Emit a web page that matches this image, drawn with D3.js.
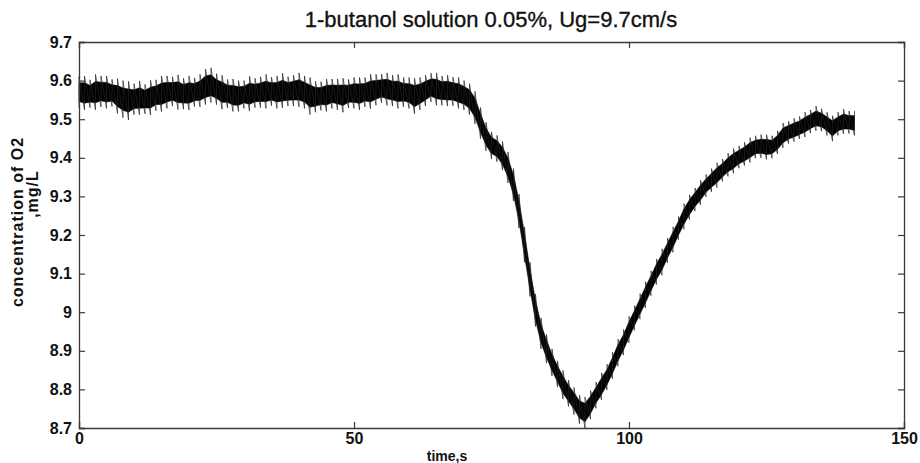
<!DOCTYPE html>
<html><head><meta charset="utf-8">
<script src="https://cdn.jsdelivr.net/npm/d3@7"></script>
<style>body{margin:0;background:#fff}svg{display:block}</style>
</head><body>
<script>
const title = "1-butanol solution 0.05%, Ug=9.7cm/s";
const xLabel = "time,s";
const yLabelLines = ["concentration of O2", ",mg/L"];
const xTicks = [0, 50, 100, 150];
const yTicks = [8.7, 8.8, 8.9, 9, 9.1, 9.2, 9.3, 9.4, 9.5, 9.6, 9.7];
const yTickLabels = ["8.7","8.8","8.9","9","9.1","9.2","9.3","9.4","9.5","9.6","9.7"];
// time in seconds (one sample per second)
const timeS = d3.range(0, 142);
// centre of the noisy trace, mg/L
const centre = [
9.570,9.568,9.566,9.570,9.572,9.570,9.568,9.560,9.552,9.548,
9.552,9.555,9.552,9.556,9.562,9.566,9.570,9.572,9.570,9.566,
9.568,9.570,9.574,9.584,9.588,9.578,9.570,9.566,9.562,9.560,
9.564,9.566,9.568,9.570,9.572,9.572,9.570,9.574,9.572,9.574,
9.576,9.570,9.560,9.558,9.560,9.562,9.566,9.564,9.562,9.566,
9.568,9.566,9.570,9.572,9.576,9.580,9.578,9.574,9.572,9.570,
9.568,9.560,9.566,9.574,9.582,9.578,9.574,9.574,9.572,9.568,
9.562,9.552,9.530,9.490,9.455,9.432,9.424,9.405,9.375,9.330,
9.262,9.175,9.085,9.005,8.945,8.905,8.870,8.840,8.812,8.790,
8.770,8.748,8.740,8.760,8.785,8.808,8.832,8.862,8.895,8.922,
8.955,8.985,9.015,9.045,9.075,9.105,9.130,9.160,9.188,9.218,
9.248,9.272,9.292,9.310,9.328,9.342,9.355,9.368,9.382,9.392,
9.402,9.410,9.420,9.428,9.430,9.428,9.428,9.440,9.458,9.466,
9.472,9.478,9.486,9.494,9.502,9.498,9.488,9.476,9.488,9.494,
9.492,9.490];
// reach of the noise spikes around the centre, mg/L
const spread = [
0.040,0.044,0.036,0.046,0.040,0.042,0.035,0.045,0.048,0.050,
0.040,0.044,0.038,0.045,0.040,0.046,0.042,0.038,0.045,0.040,
0.044,0.037,0.042,0.046,0.045,0.040,0.044,0.037,0.042,0.040,
0.036,0.045,0.038,0.040,0.044,0.037,0.042,0.045,0.038,0.040,
0.044,0.042,0.048,0.040,0.037,0.042,0.038,0.040,0.044,0.037,
0.040,0.042,0.038,0.045,0.040,0.037,0.042,0.040,0.044,0.038,
0.040,0.046,0.042,0.040,0.037,0.042,0.038,0.040,0.037,0.040,
0.038,0.040,0.042,0.040,0.037,0.035,0.034,0.037,0.040,0.042,
0.044,0.046,0.044,0.042,0.040,0.037,0.035,0.034,0.037,0.034,
0.035,0.037,0.040,0.037,0.034,0.035,0.033,0.034,0.035,0.033,
0.034,0.032,0.033,0.034,0.032,0.033,0.034,0.032,0.033,0.030,
0.033,0.032,0.030,0.032,0.029,0.030,0.032,0.029,0.030,0.032,
0.029,0.030,0.032,0.029,0.030,0.032,0.029,0.030,0.032,0.029,
0.030,0.029,0.032,0.030,0.032,0.029,0.030,0.033,0.030,0.032,
0.029,0.032];

const W = 920, H = 463;
const m = {left: 79, top: 42, right: 16, bottom: 35};
const svg = d3.select("body").append("svg").attr("width", W).attr("height", H);
const x = d3.scaleLinear().domain([0, 150]).range([m.left, W - m.right]);
const y = d3.scaleLinear().domain([8.7, 9.7]).range([H - m.bottom, m.top]);

const rows = timeS.map((t, i) => ({t, c: centre[i], s: spread[i]}));

const plotG = svg.append("g");
// solid core of the trace
plotG.append("path").datum(rows)
  .attr("d", d3.area().x(d => x(d.t)).y0(d => y(d.c - d.s * 0.6)).y1(d => y(d.c + d.s * 0.6)))
  .attr("fill", "#000").attr("stroke", "#000").attr("stroke-width", 0.6);
// spikes: at every sample go from the low to the high extreme
const spikePts = [];
rows.forEach(d => { spikePts.push([d.t, d.c - d.s]); spikePts.push([d.t, d.c + d.s]); });
plotG.append("path").datum(spikePts)
  .attr("d", d3.line().x(p => x(p[0])).y(p => y(p[1])))
  .attr("fill", "none").attr("stroke", "#222").attr("stroke-width", 0.7);

const axCol = "#3a3a3a";
const tickFont = "bold 16px 'Liberation Sans', Arial, sans-serif";
const axB = svg.append("g").attr("transform", `translate(0,${y(8.7)})`)
  .call(d3.axisBottom(x).tickValues(xTicks).tickSize(-6).tickPadding(8).tickFormat(d3.format("d")));
const axT = svg.append("g").attr("transform", `translate(0,${y(9.7)})`)
  .call(d3.axisTop(x).tickValues(xTicks).tickSize(-6).tickFormat(""));
const axL = svg.append("g").attr("transform", `translate(${x(0)},0)`)
  .call(d3.axisLeft(y).tickValues(yTicks).tickSize(-6).tickPadding(7).tickFormat((d, i) => yTickLabels[i]));
const axR = svg.append("g").attr("transform", `translate(${x(150)},0)`)
  .call(d3.axisRight(y).tickValues(yTicks).tickSize(-6).tickFormat(""));
[axB, axT, axL, axR].forEach(a => {
  a.selectAll("path.domain").attr("stroke", axCol).attr("stroke-width", 1.3);
  a.selectAll(".tick line").attr("stroke", axCol).attr("stroke-width", 1.2);
  a.selectAll("text").style("font", tickFont).attr("fill", "#111");
});
axB.selectAll("text").attr("dy", "0.5em");

svg.append("text").attr("x", 491).attr("y", 27).attr("text-anchor", "middle")
  .style("font", "22px 'Liberation Sans', Arial, sans-serif")
  .attr("fill", "#111").attr("stroke", "#111").attr("stroke-width", 0.35).text(title);
svg.append("text").attr("x", 447).attr("y", 461).attr("text-anchor", "middle")
  .style("font", "bold 14px 'Liberation Sans', Arial, sans-serif").attr("fill", "#111").text(xLabel);
svg.append("text").attr("transform", "translate(23,222) rotate(-90)").attr("text-anchor", "middle")
  .style("font", "bold 16px 'Liberation Sans', Arial, sans-serif").style("letter-spacing", "1px")
  .attr("fill", "#111").text(yLabelLines[0]);
svg.append("text").attr("transform", "translate(38,194) rotate(-90)").attr("text-anchor", "middle")
  .style("font", "bold 16px 'Liberation Sans', Arial, sans-serif").style("letter-spacing", "1px")
  .attr("fill", "#111").text(yLabelLines[1]);
</script>
</body></html>
